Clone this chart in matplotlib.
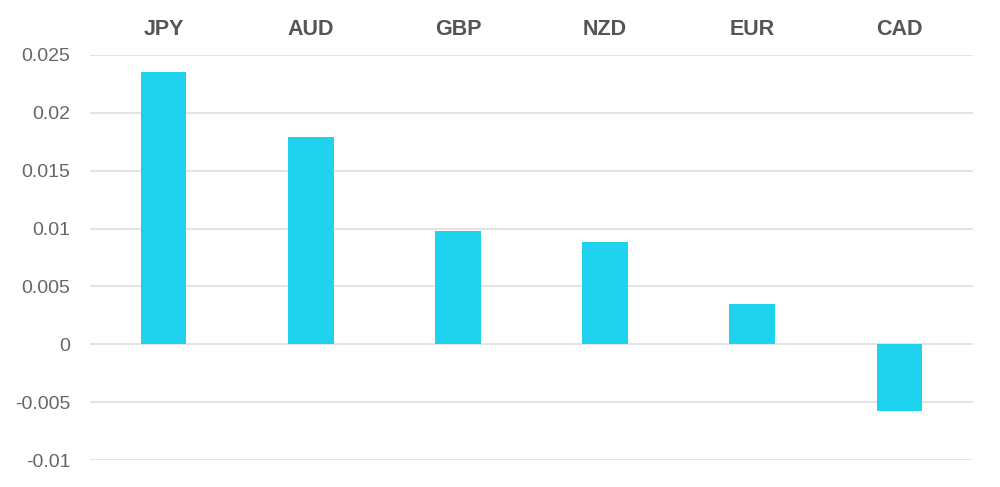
import matplotlib.pyplot as plt
import numpy as np

currencies = ["JPY", "AUD", "GBP", "NZD", "EUR", "CAD"]
values = [0.02353, 0.0179, 0.00978, 0.00882, 0.00346, -0.0058]
y_ticks = [-0.01, -0.005, 0, 0.005, 0.01, 0.015, 0.02, 0.025]
y_tick_labels = ["-0.01", "-0.005", "0", "0.005", "0.01", "0.015", "0.02", "0.025"]

BAR_COLOR = "#1fd3ee"
GRID_COLOR = "#e2e2e2"

plt.rcParams["font.family"] = ["Liberation Sans", "DejaVu Sans"]

fig = plt.figure(figsize=(10, 4.87), dpi=100)
ax = fig.add_axes([0.09, 0.0554, 0.883, 0.8317])

x = np.arange(len(currencies))
ax.bar(x, values, width=0.31, color=BAR_COLOR, zorder=3)

ax.set_xlim(-0.5, len(currencies) - 0.5)
ax.set_ylim(-0.01, 0.025)
ax.set_yticks(y_ticks)
ax.set_yticklabels(y_tick_labels, fontsize=14, color="#666666")
ax.tick_params(axis="y", length=0, pad=14)

ax.xaxis.tick_top()
ax.set_xticks(x)
ax.set_xticklabels(currencies, fontsize=15.5, color="#555555", fontweight="bold")
ax.tick_params(axis="x", length=0, pad=11)

ax.grid(axis="y", color=GRID_COLOR, linewidth=1.3, zorder=0)
for s in ax.spines.values():
    s.set_visible(False)

fig.savefig("out.png", dpi=100, facecolor="white")
